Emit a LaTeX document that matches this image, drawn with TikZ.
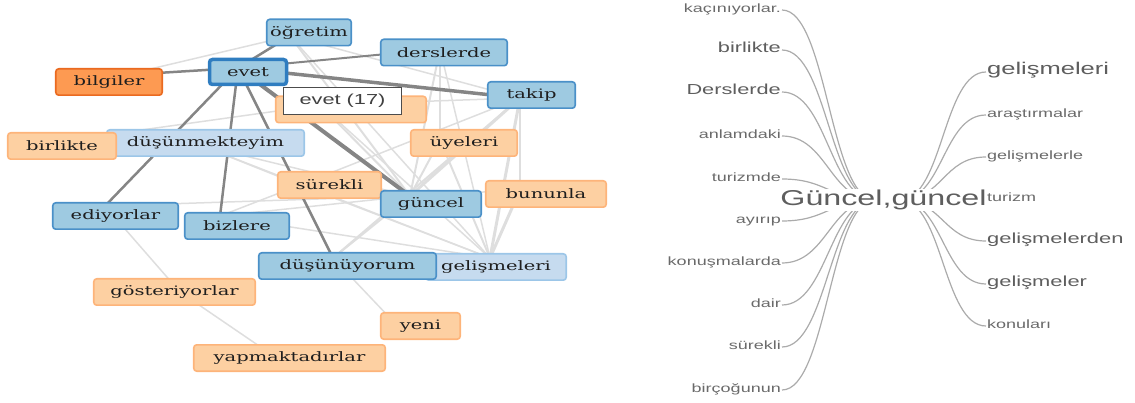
\documentclass[tikz,border=0pt]{standalone}
\usepackage{fontspec}
\usepackage{graphicx}
\newfontfamily\netfont{DejaVu Serif}
\newfontfamily\treefont{Liberation Sans}
\usetikzlibrary{calc}
\pgfdeclarelayer{background}
\pgfsetlayers{background,main}
\definecolor{bfill}{HTML}{9ECAE1}
\definecolor{bdraw}{HTML}{4A90C8}
\definecolor{edraw}{HTML}{2F7DC0}
\definecolor{lbfill}{HTML}{C6DBEF}
\definecolor{lbdraw}{HTML}{9CC6E8}
\definecolor{ofill}{HTML}{FDD0A2}
\definecolor{odraw}{HTML}{FDB47A}
\definecolor{dfill}{HTML}{FD9A52}
\definecolor{ddraw}{HTML}{EA6A20}
\definecolor{txt}{HTML}{1E1E1E}
\definecolor{dkgray}{HTML}{858585}
\definecolor{ltgray}{HTML}{DEDEDE}
\definecolor{treeline}{HTML}{ABABAB}
\definecolor{tgray}{HTML}{5E5E5E}
\definecolor{tsmall}{HTML}{6A6A6A}
\newcommand{\sxt}[1]{\scalebox{1.5}[1]{#1}}
\begin{document}
\begin{tikzpicture}[x=1pt,y=-1pt,
  box/.style={rounded corners=3pt, line width=1.6pt, minimum height=26.4pt, inner sep=0pt,
    font=\netfont\fontsize{13}{15}\selectfont, text=txt},
  blue/.style={box, draw=bdraw, fill=bfill},
  lblue/.style={box, draw=lbdraw, fill=lbfill},
  orng/.style={box, draw=odraw, fill=ofill},
  dorng/.style={box, draw=ddraw, fill=dfill},
  dk/.style={draw=dkgray, line width=#1pt},
  lt/.style={draw=ltgray, line width=#1pt},
  tree/.style={draw=treeline, line width=1.2pt},
  leafL/.style={anchor=mid east, inner sep=1pt, text=#1},
  leafR/.style={anchor=mid west, inner sep=1pt, text=#1},
  tip/.style={draw=black!70, line width=0.9pt, fill=white, minimum width=118pt, minimum height=27pt,
    inner sep=0pt, font=\treefont\fontsize{14.5}{16}\selectfont, text=black!75}
]
\useasboundingbox (0,0) rectangle (1135,403);

% graph points
\coordinate (p-ogretim) at (290,36);
\coordinate (p-derslerde) at (440,49);
\coordinate (p-evet) at (238,68);
\coordinate (p-bilgiler) at (125,75);
\coordinate (p-takip) at (520,98);
\coordinate (p-hidden) at (320,105);
\coordinate (p-dmk) at (200,145);
\coordinate (p-birlikte) at (70,140);
\coordinate (p-uyeleri) at (440,140);
\coordinate (p-surekli) at (300,185);
\coordinate (p-bununla) at (520,190);
\coordinate (p-guncel) at (410,196);
\coordinate (p-ediyorlar) at (105,206);
\coordinate (p-bizlere) at (220,216);
\coordinate (p-dsn) at (333,258);
\coordinate (p-gelis) at (490,258);
\coordinate (p-goster) at (180,292);
\coordinate (p-yeni) at (390,318);
\coordinate (p-yapmak) at (265,350);

% light edges
\draw[lt=1.5] (p-bilgiler) -- (p-ogretim);
\draw[lt=1.5] (p-birlikte) -- (p-hidden);
\draw[lt=2] (p-ogretim) -- (p-guncel);
\draw[lt=1.5] (p-ogretim) -- (p-gelis);
\draw[lt=1.5] (p-ogretim) -- (p-takip);
\draw[lt=2] (p-derslerde) -- (p-uyeleri);
\draw[lt=2] (p-derslerde) -- (p-guncel);
\draw[lt=1.5] (p-derslerde) -- (p-gelis);
\draw[lt=3] (p-takip) -- (p-guncel);
\draw[lt=3] (p-takip) -- (p-gelis);
\draw[lt=2] (p-takip) -- (p-bununla);
\draw[lt=1.5] (p-takip) -- (p-hidden);
\draw[lt=1.5] (p-takip) -- (p-surekli);
\draw[lt=2] (p-uyeleri) -- (p-guncel);
\draw[lt=2] (p-uyeleri) -- (p-gelis);
\draw[lt=3] (p-bununla) -- (p-gelis);
\draw[lt=1.5] (p-bununla) -- (p-guncel);
\draw[lt=1.5] (p-surekli) -- (p-gelis);
\draw[lt=1.5] (p-surekli) -- (p-guncel);
\draw[lt=2] (p-hidden) -- (p-guncel);
\draw[lt=1.5] (p-hidden) -- (p-gelis);
\draw[lt=1.5] (p-dmk) -- (p-guncel);
\draw[lt=1.5] (p-dmk) -- (p-surekli);
\draw[lt=1.5] (p-dmk) -- (p-gelis);
\draw[lt=1.5] (p-ediyorlar) -- (p-guncel);
\draw[lt=1.5] (p-ediyorlar) -- (p-goster);
\draw[lt=1.5] (p-bizlere) -- (p-gelis);
\draw[lt=1.5] (p-bizlere) -- (p-guncel);
\draw[lt=1.5] (p-bizlere) -- (p-surekli);
\draw[lt=1.5] (p-goster) -- (p-yapmak);
\draw[lt=1.5] (p-dsn) -- (p-yeni);
\draw[lt=2] (p-dsn) -- (p-guncel);
\draw[lt=2] (p-dsn) -- (p-takip);

% dark edges
\draw[dk=2.5] (p-evet) -- (p-ogretim);
\draw[dk=2.5] (p-evet) -- (p-bilgiler);
\draw[dk=2] (p-evet) -- (p-derslerde);
\draw[dk=3.5] (p-evet) -- (p-takip);
\draw[dk=2.5] (p-evet) -- (p-ediyorlar);
\draw[dk=2.5] (p-evet) -- (p-bizlere);
\draw[dk=2.5] (p-evet) -- (p-dsn);
\draw[dk=4] (p-evet) -- (p-guncel);

% nodes
\node[blue, minimum width=84.5pt] (ogretim) at (309,32.5) {\sxt{öğretim}};
\node[blue, minimum width=126.5pt] (derslerde) at (444,52.5) {\sxt{derslerde}};
\node[dorng, minimum width=106.5pt] (bilgiler) at (109,82) {\sxt{bilgiler}};
\node[blue, minimum width=87.5pt] (takip) at (531.5,95) {\sxt{takip}};
\node[orng, minimum width=150.5pt] (hidden) at (351,109.5) {};
\node[lblue, minimum width=197.5pt] (dmk) at (205.5,143) {\sxt{düşünmekteyim}};
\node[orng, minimum width=108.5pt] (birlikte) at (62,146) {\sxt{birlikte}};
\node[orng, minimum width=106.5pt] (uyeleri) at (464,143) {\sxt{üyeleri}};
\node[orng, minimum width=103.5pt] (surekli) at (329.5,185) {\sxt{sürekli}};
\node[orng, minimum width=120.5pt] (bununla) at (546,194) {\sxt{bununla}};
\node[blue, minimum width=100.5pt] (guncel) at (431,204) {\sxt{güncel}};
\node[blue, minimum width=125.5pt] (ediyorlar) at (115.5,216) {\sxt{ediyorlar}};
\node[blue, minimum width=104.5pt] (bizlere) at (237,226) {\sxt{bizlere}};
\node[lblue, minimum width=140.5pt] (gelis) at (496,267) {\sxt{gelişmeleri}};
\node[blue, minimum width=177.5pt] (dsn) at (347.5,266) {\sxt{düşünüyorum}};
\node[orng, minimum width=161.5pt] (goster) at (174.5,292) {\sxt{gösteriyorlar}};
\node[orng, minimum width=79.5pt] (yeni) at (420.5,326) {\sxt{yeni}};
\node[orng, minimum width=191.5pt] (yapmak) at (289.5,358) {\sxt{yapmaktadırlar}};
\node[box, draw=edraw, fill=bfill, line width=3.5pt, minimum width=77pt, minimum height=25pt] (evet) at (248,72) {\sxt{evet}};
\node[tip] (tooltip) at (342.5,101) {\sxt{evet (17)}};

% word tree
\node[fill=white, inner sep=1pt, text=tgray, font=\treefont\fontsize{21.5}{24}\selectfont] (root) at (883.5,200) {\sxt{Güncel,güncel}};
\coordinate (rootL) at (875,200);
\coordinate (rootR) at (900,200);

\begin{scope}[font=\treefont\fontsize{12}{14}\selectfont]
\node[leafL=tsmall] (l1) at (782,10) {\sxt{kaçınıyorlar.}};
\node[leafL=tgray, font=\treefont\fontsize{14.5}{16}\selectfont] (l2) at (782,50) {\sxt{birlikte}};
\node[leafL=tgray, font=\treefont\fontsize{14.5}{16}\selectfont] (l3) at (782,92) {\sxt{Derslerde}};
\node[leafL=tsmall] (l4) at (782,136) {\sxt{anlamdaki}};
\node[leafL=tsmall] (l5) at (782,179) {\sxt{turizmde}};
\node[leafL=tsmall] (l6) at (782,221) {\sxt{ayırıp}};
\node[leafL=tsmall] (l7) at (782,263) {\sxt{konuşmalarda}};
\node[leafL=tsmall] (l8) at (782,305) {\sxt{dair}};
\node[leafL=tsmall] (l9) at (782,347) {\sxt{sürekli}};
\node[leafL=tsmall] (l10) at (782,390) {\sxt{birçoğunun}};

\node[leafR=tgray, font=\treefont\fontsize{17}{19}\selectfont] (r1) at (986,72) {\sxt{gelişmeleri}};
\node[leafR=tsmall] (r2) at (986,115) {\sxt{araştırmalar}};
\node[leafR=tsmall] (r3) at (986,157) {\sxt{gelişmelerle}};
\node[leafR=tsmall] (r4) at (986,199) {\sxt{turizm}};
\node[leafR=tgray, font=\treefont\fontsize{14.6}{16}\selectfont] (r5) at (986,241) {\sxt{gelişmelerden}};
\node[leafR=tgray, font=\treefont\fontsize{14.6}{16}\selectfont] (r6) at (986,284) {\sxt{gelişmeler}};
\node[leafR=tsmall] (r7) at (986,326) {\sxt{konuları}};
\end{scope}

\begin{pgfonlayer}{background}
\foreach \l in {l1,l2,l3,l4,l5,l6,l7,l8,l9,l10}
  \draw[tree] (\l.mid east) .. controls ([xshift=45pt]\l.mid east) and ([xshift=-45pt]rootL) .. (rootL);
\foreach \r in {r1,r2,r3,r4,r5,r6,r7}
  \draw[tree] (rootR) .. controls ([xshift=43pt]rootR) and ([xshift=-43pt]\r.mid west) .. (\r.mid west);
\end{pgfonlayer}
\end{tikzpicture}
\end{document}
